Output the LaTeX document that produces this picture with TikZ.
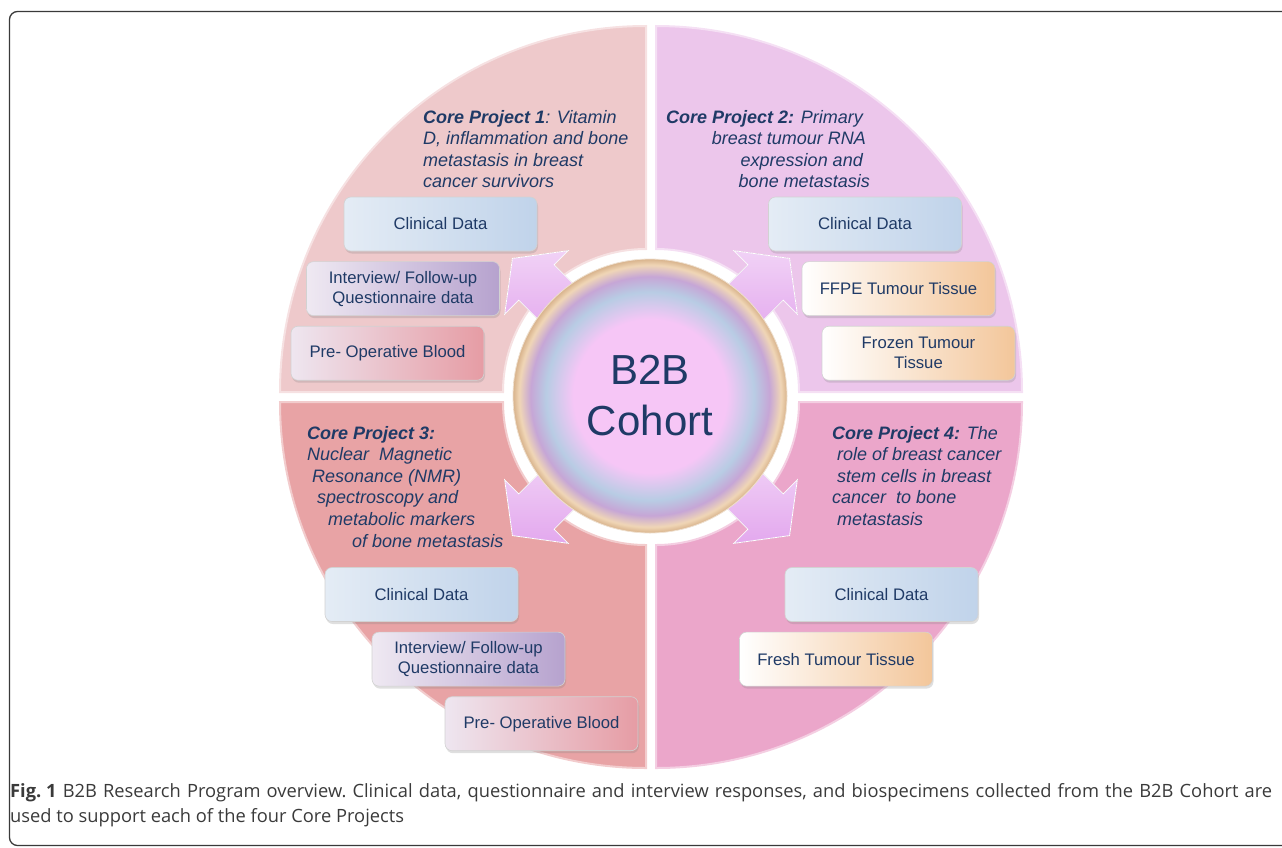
\documentclass[tikz,border=0pt]{standalone}
\usepackage{fontspec}
\setmainfont{Liberation Sans}
\newfontfamily\captionfont{Open Sans}
\usetikzlibrary{positioning}
\usetikzlibrary{shadows}
\definecolor{navy}{HTML}{1F3A66}
\definecolor{qone}{HTML}{EEC9CB}
\definecolor{qtwo}{HTML}{ECC6EB}
\definecolor{qthree}{HTML}{E8A3A5}
\definecolor{qfour}{HTML}{EBA6CA}
\definecolor{cohpink}{HTML}{F6C6F6}
\definecolor{cohblue}{HTML}{B8CCE4}
\definecolor{cohlav}{HTML}{C6A6D6}
\definecolor{cohpeach}{HTML}{F0D6B6}
\definecolor{cohgold}{HTML}{D8B38C}
\definecolor{arrowtop}{HTML}{F1D2F6}
\definecolor{arrowbot}{HTML}{E3A8EE}
\definecolor{boxbluel}{HTML}{E4ECF5}
\definecolor{boxbluer}{HTML}{C0D3EA}
\definecolor{boxpurpl}{HTML}{EFE9F2}
\definecolor{boxpurpr}{HTML}{B6A2CE}
\definecolor{boxpinkl}{HTML}{EEE6F0}
\definecolor{boxpinkr}{HTML}{E69CA4}
\definecolor{boxpeachr}{HTML}{F3C69A}
\definecolor{capgray}{HTML}{3A3A3A}
\pgfdeclareradialshading{cohortball}{\pgfpoint{0bp}{0bp}}{%
  color(0bp)=(cohpink); color(14bp)=(cohpink); color(19bp)=(cohblue);
  color(21.8bp)=(cohlav); color(23.9bp)=(cohpeach); color(25bp)=(cohgold);
  color(50bp)=(cohgold)}
\tikzset {
  % boxes with the data of each core project
  databox/.style={draw=gray!35, line width=0.6pt, rounded corners=7pt,
    minimum width=193pt, minimum height=54pt, inner sep=0pt, align=center,
    text=navy, font=\fontsize{16.7}{20}\selectfont,
    drop shadow={opacity=0.25, shadow xshift=1pt, shadow yshift=-2.5pt}},
  bluebox/.style={left color=boxbluel, right color=boxbluer},
  purplebox/.style={left color=boxpurpl, right color=boxpurpr},
  pinkbox/.style={left color=boxpinkl, right color=boxpinkr},
  peachbox/.style={left color=white, right color=boxpeachr},
  % titles of the core projects
  project/.style={inner sep=0pt, text=navy, font=\fontsize{18}{21.6}\selectfont\itshape},
  % block arrows out of the cohort
  outarrow/.style={top color=arrowtop, bottom color=arrowbot, draw=white, line width=0.8pt},
  captext/.style={anchor=base west, inner sep=0pt, text=capgray, font=\captionfont\fontsize{18.3}{25}\selectfont\frenchspacing},
}
\begin{document}
\begin{tikzpicture}[x=1pt, y=-1pt]
  \useasboundingbox (0,0) rectangle (1282,847);
  \draw[capgray, line width=1.3pt, rounded corners=8pt] (1300,11.5) -- (9.5,11.5) -- (9.5,845.5) -- (1300,845.5);

  % four quarters of the ring
  \begin{scope}[shift={(651,397)}]
    \foreach \a/\b/\col/\dx/\dy in {180/270/qone/-5/-5, 270/360/qtwo/5/-5, 90/180/qthree/-5/5, 0/90/qfour/5/5}
      \filldraw[fill=\col, draw=white!45!\col, line width=2pt, shift={(\dx,\dy)}]
        (\a:143) -- (\a:366) arc[start angle=\a, end angle=\b, radius=366]
        -- (\b:143) arc[start angle=\b, end angle=\a, radius=143] -- cycle;
    \foreach \ang in {45,135,225,315}
      \filldraw[outarrow, rotate=\ang] (110,-25) -- (162,-25) -- (162,-45) -- (196,0)
        -- (162,45) -- (162,25) -- (110,25) -- cycle;
    \node[circle, minimum size=274pt, inner sep=0pt, shading=cohortball,
      draw=white!60!cohgold, line width=0.8pt, align=center, text=navy,
      font=\fontsize{42}{51}\selectfont] (cohort) at (-1,-1) {B2B\\Cohort};
  \end{scope}

  \node[project, anchor=base west] (title1) at (423,123) {\begin{tabular}[t]{@{}l@{}}
    \textbf{Core Project 1}: Vitamin\\ D, inflammation and bone\\ metastasis in breast\\ cancer survivors\end{tabular}};
  \node[project, anchor=base east] (title2) at (870,123) {\begin{tabular}[t]{@{}r@{}}
    \textbf{Core Project 2:} Primary\hspace*{7pt}\\ breast tumour RNA\hspace*{4pt}\\ expression and\hspace*{7pt}\\ bone metastasis\end{tabular}};
  \node[project, anchor=base west] (title3) at (307,439) {\begin{tabular}[t]{@{}l@{}}
    \textbf{Core Project 3:}\\ Nuclear~ Magnetic\\ \hspace*{5pt}Resonance (NMR)\\ \hspace*{10pt}spectroscopy and\\
    \hspace*{21pt}metabolic markers\\ \hspace*{45pt}of bone metastasis\end{tabular}};
  \node[project, anchor=base west] (title4) at (832,439) {\begin{tabular}[t]{@{}l@{}}
    \textbf{Core Project 4:} The\\ \hspace*{5pt}role of breast cancer\\ \hspace*{5pt}stem cells in breast\\ cancer~ to bone\\
    \hspace*{5pt}metastasis\end{tabular}};

  % core project 1
  \node[databox, bluebox] (clin1) at (440.5,224) {Clinical Data};
  \node[databox, purplebox, below=10pt of clin1, xshift=-37.5pt] (inter1) {Interview/ Follow-up\\Questionnaire data};
  \node[databox, pinkbox, below=10pt of inter1, xshift=-15.5pt] (blood1) {Pre- Operative Blood};

  % core project 2
  \node[databox, bluebox] (clin2) at (865,224) {Clinical Data};
  \node[databox, peachbox, below=10pt of clin2, xshift=33.5pt] (ffpe2) {FFPE Tumour Tissue};
  \node[databox, peachbox, below=10pt of ffpe2, xshift=20pt] (frozen2) {Frozen Tumour\\Tissue};

  % core project 3
  \node[databox, bluebox] (clin3) at (421.5,594.5) {Clinical Data};
  \node[databox, purplebox, below=10pt of clin3, xshift=47pt] (inter3) {Interview/ Follow-up\\Questionnaire data};
  \node[databox, pinkbox, below=10pt of inter3, xshift=73pt] (blood3) {Pre- Operative Blood};

  % core project 4
  \node[databox, bluebox] (clin4) at (881.5,594.5) {Clinical Data};
  \node[databox, peachbox, below=10pt of clin4, xshift=-45.5pt] (fresh4) {Fresh Tumour Tissue};

  % caption
  \node[captext] (cap1) at (10,797)
    {\makebox[1262pt][s]{\mbox{\textbf{Fig. 1}} B2B Research Program overview. Clinical data, questionnaire and interview responses, and biospecimens collected from the B2B Cohort are}};
  \node[captext] (cap2) at (10,822) {used to support each of the four Core Projects};
\end{tikzpicture}
\end{document}
